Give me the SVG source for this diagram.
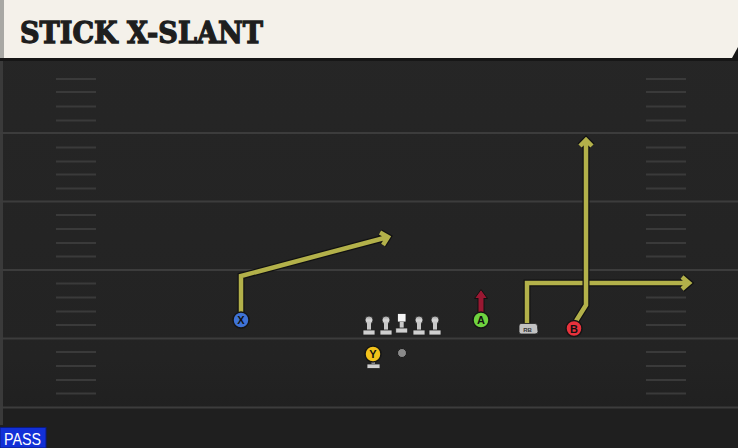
<svg xmlns="http://www.w3.org/2000/svg" width="738" height="448" viewBox="0 0 738 448">
<defs>
<style>
.yl{stroke:#3c3c3c;stroke-width:2}
.hm{stroke:#3a3a3a;stroke-width:2}
.rt-o{fill:none;stroke:#121212;stroke-width:7;stroke-linejoin:miter;stroke-linecap:butt}
.rt{fill:none;stroke:#b3b14a;stroke-width:4.5;stroke-linejoin:miter;stroke-linecap:butt}
.pl{stroke:#151515;stroke-width:1.5}
.lt{font-family:"Liberation Sans",Arial,sans-serif;font-weight:bold;font-size:11px;fill:#111;text-anchor:middle}
.ol{fill:url(#lg)}
</style>
<linearGradient id="lg" x1="0" y1="0" x2="0" y2="1">
<stop offset="0" stop-color="#9a9a9a"/>
<stop offset="0.5" stop-color="#d8d8d8"/>
<stop offset="1" stop-color="#c0c0c0"/>
</linearGradient>
<linearGradient id="fg" x1="0" y1="0" x2="0" y2="1">
<stop offset="0" stop-color="#262626"/>
<stop offset="0.8" stop-color="#232323"/>
<stop offset="1" stop-color="#1e1e1e"/>
</linearGradient>
<g id="lineman">
<circle cx="0" cy="0" r="4" class="ol" stroke="#222" stroke-width="0.8"/>
<rect x="-2" y="3" width="4" height="8" fill="#c8c8c8"/>
<rect x="-6" y="10" width="12" height="5" fill="#cfcfcf" stroke="#222" stroke-width="0.8"/>
</g>
</defs>
<rect x="0" y="0" width="738" height="448" fill="url(#fg)"/>
<rect x="0" y="408" width="738" height="40" fill="#1f1f1f"/>
<rect x="0" y="60" width="3" height="365" fill="#3a3a3a"/>
<g id="field-lines">
<line class="yl" x1="0" y1="133" x2="738" y2="133"/>
<line class="yl" x1="0" y1="201.5" x2="738" y2="201.5"/>
<line class="yl" x1="0" y1="270" x2="738" y2="270"/>
<line class="yl" x1="0" y1="338.5" x2="738" y2="338.5"/>
<line class="yl" x1="0" y1="407.5" x2="738" y2="407.5"/>
</g>
<g id="hashes">
<path class="hm" d="M56,79H96M56,92H96M56,106.5H96M56,120.5H96M56,147.5H96M56,161.5H96M56,174.5H96M56,188.5H96M56,215H96M56,229H96M56,243H96M56,256.5H96M56,283.5H96M56,297.5H96M56,311.5H96M56,325H96M56,352H96M56,366H96M56,380H96M56,393.5H96"/>
<path class="hm" d="M646,79H686M646,92H686M646,106.5H686M646,120.5H686M646,147.5H686M646,161.5H686M646,174.5H686M646,188.5H686M646,215H686M646,229H686M646,243H686M646,256.5H686M646,283.5H686M646,297.5H686M646,311.5H686M646,325H686M646,352H686M646,366H686M646,380H686M646,393.5H686"/>
</g>
<g id="title-bar">
<rect x="0" y="0" width="738" height="61" fill="#161616"/>
<path d="M4,0H738V47L732,58H4Z" fill="#f4f1ea"/>
<rect x="0" y="0" width="4" height="58" fill="#a8a8a4"/>
<text x="20" y="43" font-family="DejaVu Serif,serif" font-weight="bold" font-size="29" fill="#1e1e1e" stroke="#1e1e1e" stroke-width="1.3" textLength="243" lengthAdjust="spacingAndGlyphs">STICK X-SLANT</text>
</g>
<g id="connectors">
<g id="route-x">
<path class="rt-o" d="M241,312V276L388,237M380,232.5L388,237L383,245"/>
<path class="rt" d="M241,312V276L388,237M380,232.5L388,237L383,245"/>
</g>
<g id="route-rb">
<path class="rt-o" d="M527,323V283H689M682,277L689,283L682,289"/>
<path class="rt" d="M527,323V283H689M682,277L689,283L682,289"/>
</g>
<g id="route-b">
<path class="rt-o" d="M576,321L586,305V140M580,146L586,140L592,146"/>
<path class="rt" d="M576,321L586,305V140M580,146L586,140L592,146"/>
</g>
<g id="route-a">
<path d="M481,313V297" stroke="#111" stroke-width="7"/>
<path d="M474.5,298.5L481,289.5L487.5,298.5Z" fill="#9a1832" stroke="#111" stroke-width="1"/>
<path d="M481,312V297" stroke="#9a1832" stroke-width="5"/>
</g>
</g>
<g id="ol-1"><use href="#lineman" x="369" y="320"/></g>
<g id="ol-2"><use href="#lineman" x="386" y="320"/></g>
<g id="center">
<rect x="397.5" y="313.5" width="8.5" height="8.5" fill="#f4f4f4" stroke="#222" stroke-width="0.8"/>
<rect x="399.7" y="322" width="4" height="7" fill="#c8c8c8"/>
<rect x="395.7" y="328" width="12" height="5" fill="#cfcfcf" stroke="#222" stroke-width="0.8"/>
</g>
<g id="ol-4"><use href="#lineman" x="419" y="320"/></g>
<g id="ol-5"><use href="#lineman" x="435" y="320"/></g>
<g id="qb"><circle cx="402" cy="353" r="4.5" fill="#8a8a8a" stroke="#1a1a1a" stroke-width="1"/></g>
<g id="player-y">
<rect x="371.5" y="360" width="3.5" height="5" fill="#c8c8c8"/>
<rect x="367" y="364" width="13" height="4.5" fill="#cfcfcf" stroke="#222" stroke-width="0.8"/>
<circle cx="373" cy="354" r="8" fill="#f2c21b" class="pl"/>
<text class="lt" x="373" y="358">Y</text>
</g>
<g id="player-x">
<circle cx="241" cy="320" r="8" fill="#3f73d6" class="pl"/>
<text class="lt" x="241" y="324">X</text>
</g>
<g id="player-a">
<circle cx="481" cy="320" r="8" fill="#6fd33f" class="pl"/>
<text class="lt" x="481" y="324">A</text>
</g>
<g id="player-rb">
<path d="M521,323.5H535Q537.5,323.5 537.5,326.5L538,331.5Q538,334 535,334H521Q519,334 519,331.5V326Q519,323.5 521,323.5Z" fill="#c2c2c2" stroke="#222" stroke-width="0.8"/>
<text x="527.5" y="331.5" font-family="Liberation Sans,Arial,sans-serif" font-weight="bold" font-size="6" fill="#333" text-anchor="middle">RB</text>
</g>
<g id="player-b">
<circle cx="574" cy="328.5" r="8" fill="#e8323c" class="pl"/>
<text class="lt" x="574" y="332.5" fill="#2a0a0a">B</text>
</g>
<g id="pass-label">
<rect x="0" y="427.5" width="46" height="20.5" fill="#1230d8" stroke="#0a1a80" stroke-width="1"/>
<text x="4" y="444.5" font-family="Liberation Sans,Arial,sans-serif" font-size="16" fill="#ffffff" textLength="37" lengthAdjust="spacingAndGlyphs">PASS</text>
</g>
</svg>
